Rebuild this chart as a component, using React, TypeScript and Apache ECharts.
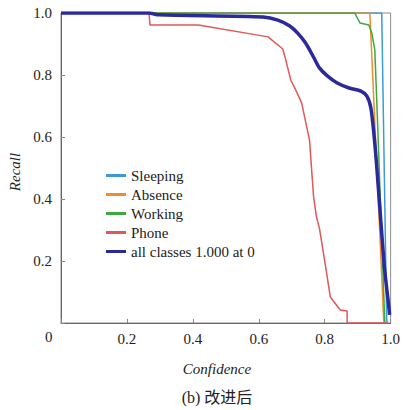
import React, { useEffect, useRef } from "react";
import * as echarts from "echarts";

const seriesNames = ["Sleeping", "Absence", "Working", "Phone", "all classes 1.000 at 0"];
const colors = ["#3c9bd6", "#f28b2c", "#3fa83f", "#e05858", "#2a2a9c"];

const sleeping: [number, number][] = [[0, 1], [0.973, 1], [0.988, 0.01], [0.99, 0]];
const absence: [number, number][] = [[0, 1], [0.937, 1], [0.979, 0.01], [0.98, 0]];
const working: [number, number][] = [
  [0, 1], [0.891, 1], [0.907, 0.968], [0.934, 0.961], [0.943, 0.935], [0.952, 0.881],
  [0.958, 0.716], [0.982, 0.01], [0.983, 0],
];
const phone: [number, number][] = [
  [0, 1], [0.267, 1], [0.27, 0.961], [0.417, 0.961], [0.628, 0.923], [0.673, 0.884],
  [0.682, 0.848], [0.697, 0.784], [0.712, 0.752], [0.73, 0.71], [0.754, 0.59],
  [0.766, 0.41], [0.775, 0.342], [0.784, 0.306], [0.802, 0.187], [0.817, 0.084],
  [0.847, 0.042], [0.868, 0.039], [0.868, 0], [0.99, 0],
];
const allClasses: [number, number][] = [
  [0, 1], [0.267, 1], [0.297, 0.994], [0.613, 0.987], [0.658, 0.977], [0.694, 0.958],
  [0.718, 0.935], [0.742, 0.903], [0.766, 0.858], [0.784, 0.823], [0.808, 0.797],
  [0.838, 0.774], [0.874, 0.758], [0.91, 0.748], [0.928, 0.732], [0.94, 0.694],
  [0.949, 0.613], [0.958, 0.503], [0.97, 0.332], [0.982, 0.171], [0.994, 0.058],
  [0.997, 0.026],
];
const seriesData = [sleeping, absence, working, phone, allClasses];
const tickStep = 0.2;

const serif = "Liberation Serif";

export default function App() {
  const ref = useRef<HTMLDivElement>(null);
  useEffect(() => {
    if (!ref.current) return;
    const chart = echarts.init(ref.current, null, { renderer: "svg" });
    const fmt = (v: number) => (v === 0 ? "" : v.toFixed(1));
    chart.setOption({
      animation: false,
      backgroundColor: "#ffffff",
      grid: {
        left: 61, right: 9, top: 13, bottom: 87,
        show: true, borderColor: "#8c8c8c", borderWidth: 1,
      },
      legend: {
        orient: "vertical", left: 101, top: 161,
        icon: "rect", itemWidth: 20, itemHeight: 3, itemGap: 0,
        textStyle: { fontFamily: serif, fontSize: 15, color: "#222", lineHeight: 19 },
        data: seriesNames,
      },
      xAxis: {
        type: "value", min: 0, max: 1, interval: tickStep,
        axisLine: { lineStyle: { color: "#666" } },
        axisTick: { inside: true, length: 4, lineStyle: { color: "#888" } },
        axisLabel: { formatter: fmt, fontFamily: serif, fontSize: 15, color: "#222", margin: 8 },
        splitLine: { show: false },
      },
      yAxis: {
        type: "value", min: 0, max: 1, interval: tickStep,
        axisLine: { show: true, lineStyle: { color: "#666" } },
        axisTick: { show: true, inside: true, length: 4, lineStyle: { color: "#888" } },
        axisLabel: { formatter: fmt, fontFamily: serif, fontSize: 15, color: "#222", margin: 9 },
        splitLine: { show: false },
      },
      series: seriesData.map((d, i) => ({
        type: "line",
        name: seriesNames[i],
        data: d,
        showSymbol: false,
        symbol: "none",
        smooth: i === 4 ? 0.25 : false,
        color: colors[i],
        lineStyle: { width: i === 4 ? 3.5 : 1.5, color: colors[i] },
        z: i === 4 ? 5 : 2,
      })),
      graphic: [
        { type: "text", left: 45, top: 329, style: { text: "0", fontFamily: serif, fontSize: 15, fill: "#222" } },
        {
          type: "text", x: 15, y: 172, rotation: Math.PI / 2,
          style: { text: "Recall", fontFamily: serif, fontStyle: "italic", fontSize: 15, fill: "#222", align: "center", verticalAlign: "middle" },
        },
        {
          type: "text", x: 217, y: 369,
          style: { text: "Confidence", fontFamily: serif, fontStyle: "italic", fontSize: 15, fill: "#222", align: "center", verticalAlign: "middle" },
        },
        {
          type: "text", x: 217, y: 397,
          style: { text: "(b) 改进后", fontFamily: "Liberation Serif, Noto Sans CJK SC", fontSize: 16, fill: "#222", align: "center", verticalAlign: "middle" },
        },
      ],
    });
    return () => chart.dispose();
  }, []);
  return <div ref={ref} style={{ width: 403, height: 410, position: "absolute", left: 0, top: 0 }} />;
}
